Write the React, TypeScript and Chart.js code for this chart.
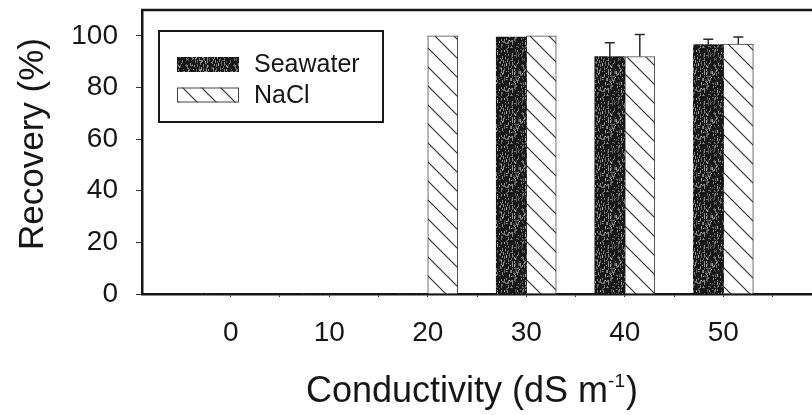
import React, { useEffect, useRef } from 'react';
import { Chart, registerables } from 'chart.js';

Chart.register(...registerables);

// ---- data ----
const conductivity = [0, 10, 20, 30, 40, 50];
const seawater = [0, 0, 0, 99.5, 92, 96.6];
const seawaterErr = [0, 0, 0, 0, 5.3, 2.1];
const nacl = [0, 0, 100, 100, 92, 96.8];
const naclErr = [0, 0, 0, 0, 8.5, 2.7];
const seriesLabels = ['Seawater', 'NaCl'];
const yTickValues = [0, 20, 40, 60, 80, 100];
const xTickValues = [0, 5, 10, 15, 20, 25, 30, 35, 40, 45, 50, 55];
const xLabelValues = [0, 10, 20, 30, 40, 50];
const yTitle = 'Recovery (%)';
const xTitleMain = 'Conductivity (dS m';
const xTitleSup = '-1';
const xTitleEnd = ')';

const FONT = '"Liberation Sans", Arial, Helvetica, sans-serif';
const INK = '#161616';

function makeSpeckle(): CanvasPattern {
  const n = 48;
  const c = document.createElement('canvas');
  c.width = n;
  c.height = n;
  const g = c.getContext('2d')!;
  g.fillStyle = '#171717';
  g.fillRect(0, 0, n, n);
  let s = 987654321;
  const rnd = () => {
    s = (Math.imul(s, 1103515245) + 12345) >>> 0;
    return s / 4294967296;
  };
  for (let i = 0; i < 380; i++) {
    const x = Math.floor(rnd() * n);
    const y = Math.floor(rnd() * n);
    const v = 70 + Math.floor(rnd() * 90);
    g.fillStyle = `rgb(${v},${v},${v})`;
    g.fillRect(x, y, 1, 1 + Math.floor(rnd() * 3));
  }
  return g.createPattern(c, 'repeat')!;
}

function makeHatch(): CanvasPattern {
  const n = 19;
  const c = document.createElement('canvas');
  c.width = n;
  c.height = n;
  const g = c.getContext('2d')!;
  g.fillStyle = '#ffffff';
  g.fillRect(0, 0, n, n);
  g.strokeStyle = '#2a2a2a';
  g.lineWidth = 1.1;
  g.beginPath();
  g.moveTo(-1, -1);
  g.lineTo(n + 1, n + 1);
  g.moveTo(n - 2, -2);
  g.lineTo(n + 2, 2);
  g.moveTo(-2, n - 2);
  g.lineTo(2, n + 2);
  g.stroke();
  return g.createPattern(c, 'repeat')!;
}

export default function App() {
  const ref = useRef<HTMLCanvasElement | null>(null);

  useEffect(() => {
    document.body.style.margin = '0';
    const canvas = ref.current;
    if (!canvas) return;
    const speckle = makeSpeckle();
    const hatch = makeHatch();
    const errors = [seawaterErr, naclErr];
    const values = [seawater, nacl];

    const decor = {
      id: 'decor',
      afterDatasetsDraw(chart: any) {
        const ctx = chart.ctx as CanvasRenderingContext2D;
        const ys = chart.scales.y;
        ctx.save();
        ctx.strokeStyle = '#2a2a2a';
        ctx.lineWidth = 1.5;
        chart.data.datasets.forEach((_ds: any, di: number) => {
          const meta = chart.getDatasetMeta(di);
          meta.data.forEach((el: any, i: number) => {
            const e = errors[di][i];
            if (!e) return;
            const yTop = ys.getPixelForValue(values[di][i] + e);
            const x = el.x;
            ctx.beginPath();
            ctx.moveTo(x, el.y);
            ctx.lineTo(x, yTop);
            ctx.moveTo(x - 5, yTop);
            ctx.lineTo(x + 5, yTop);
            ctx.stroke();
          });
        });
        ctx.restore();
      },
      afterDraw(chart: any) {
        const ctx = chart.ctx as CanvasRenderingContext2D;
        const a = chart.chartArea;
        ctx.save();
        // top frame line
        ctx.strokeStyle = INK;
        ctx.lineWidth = 2.5;
        ctx.beginPath();
        ctx.moveTo(a.left - 1, a.top);
        ctx.lineTo(a.right, a.top);
        ctx.stroke();

        // legend
        const lx = 159, ly = 31, lw = 224, lh = 91;
        ctx.fillStyle = '#ffffff';
        ctx.fillRect(lx, ly, lw, lh);
        ctx.lineWidth = 2;
        ctx.strokeStyle = INK;
        ctx.strokeRect(lx, ly, lw, lh);
        const fills = [speckle, hatch];
        const rows = [64.5, 95];
        ctx.font = `25px ${FONT}`;
        ctx.textBaseline = 'middle';
        ctx.textAlign = 'left';
        chart.data.datasets.forEach((ds: any, di: number) => {
          const cy = rows[di];
          ctx.fillStyle = fills[di];
          ctx.fillRect(177, cy - 7.5, 62, 15);
          if (di === 1) {
            ctx.lineWidth = 1;
            ctx.strokeStyle = '#444';
            ctx.strokeRect(177.5, cy - 7, 61, 14);
          }
          ctx.fillStyle = INK;
          ctx.fillText(ds.label, 254, cy + 1);
        });

        // y title
        ctx.save();
        ctx.translate(43, 144);
        ctx.rotate(-Math.PI / 2);
        ctx.font = `35px ${FONT}`;
        ctx.textAlign = 'center';
        ctx.textBaseline = 'alphabetic';
        ctx.fillStyle = INK;
        ctx.fillText(yTitle, 0, 0);
        ctx.restore();

        // x title with superscript
        const mainFont = `36px ${FONT}`;
        const supFont = `19px ${FONT}`;
        ctx.font = mainFont;
        const w1 = ctx.measureText(xTitleMain).width;
        const w3 = ctx.measureText(xTitleEnd).width;
        ctx.font = supFont;
        const w2 = ctx.measureText(xTitleSup).width;
        const total = w1 + w2 + w3 + 1;
        let x = 472 - total / 2;
        const base = 402;
        ctx.textAlign = 'left';
        ctx.textBaseline = 'alphabetic';
        ctx.fillStyle = INK;
        ctx.font = mainFont;
        ctx.fillText(xTitleMain, x, base);
        x += w1;
        ctx.font = supFont;
        ctx.fillText(xTitleSup, x, base - 15);
        x += w2 + 1;
        ctx.font = mainFont;
        ctx.fillText(xTitleEnd, x, base);
        ctx.restore();
      },
    };

    const chart = new Chart(canvas, {
      type: 'bar',
      data: {
        datasets: [
          {
            label: seriesLabels[0],
            data: conductivity.map((c, i) => ({ x: c, y: seawater[i] })),
            backgroundColor: speckle,
            borderWidth: 0,
            barThickness: 30,
          },
          {
            label: seriesLabels[1],
            data: conductivity.map((c, i) => ({ x: c, y: nacl[i] })),
            backgroundColor: hatch,
            borderColor: '#444',
            borderWidth: 1,
            barThickness: 30,
          },
        ],
      } as any,
      options: {
        animation: false,
        responsive: false,
        maintainAspectRatio: false,
        layout: { padding: { top: 10, left: 0, right: 0, bottom: 0 } },
        plugins: {
          legend: { display: false },
          tooltip: { enabled: false },
        },
        scales: {
          x: {
            type: 'linear',
            min: -9,
            max: 59,
            offset: false,
            grid: {
              offset: false,
              drawOnChartArea: false,
              drawTicks: true,
              tickLength: 3,
              color: '#333',
              lineWidth: 1,
            },
            border: { display: true, color: INK, width: 2.5 },
            afterBuildTicks: (scale: any) => {
              scale.ticks = xTickValues.map((v) => ({ value: v }));
            },
            afterFit: (scale: any) => {
              scale.height = 121;
              scale.paddingLeft = 0;
              scale.paddingRight = 0;
            },
            ticks: {
              autoSkip: false,
              maxRotation: 0,
              padding: 19,
              color: INK,
              font: { size: 28, family: FONT },
              callback: (v: any) => (xLabelValues.includes(Number(v)) ? String(v) : ''),
            },
          },
          y: {
            type: 'linear',
            min: 0,
            max: 110,
            grid: {
              drawOnChartArea: false,
              drawTicks: true,
              tickLength: 6,
              color: '#333',
              lineWidth: 1,
            },
            border: { display: true, color: INK, width: 2.5 },
            afterBuildTicks: (scale: any) => {
              scale.ticks = yTickValues.map((v) => ({ value: v }));
            },
            afterFit: (scale: any) => {
              scale.width = 142;
              scale.paddingTop = 0;
              scale.paddingBottom = 0;
            },
            ticks: {
              padding: 18,
              color: INK,
              font: { size: 28, family: FONT },
              callback: (v: any) => String(v),
            },
          },
        },
      } as any,
      plugins: [decor],
    });

    return () => {
      chart.destroy();
    };
  }, []);

  return (
    <div style={{ width: 812, height: 415, background: '#fff' }}>
      <canvas ref={ref} width={812} height={415} style={{ display: 'block' }} />
    </div>
  );
}
